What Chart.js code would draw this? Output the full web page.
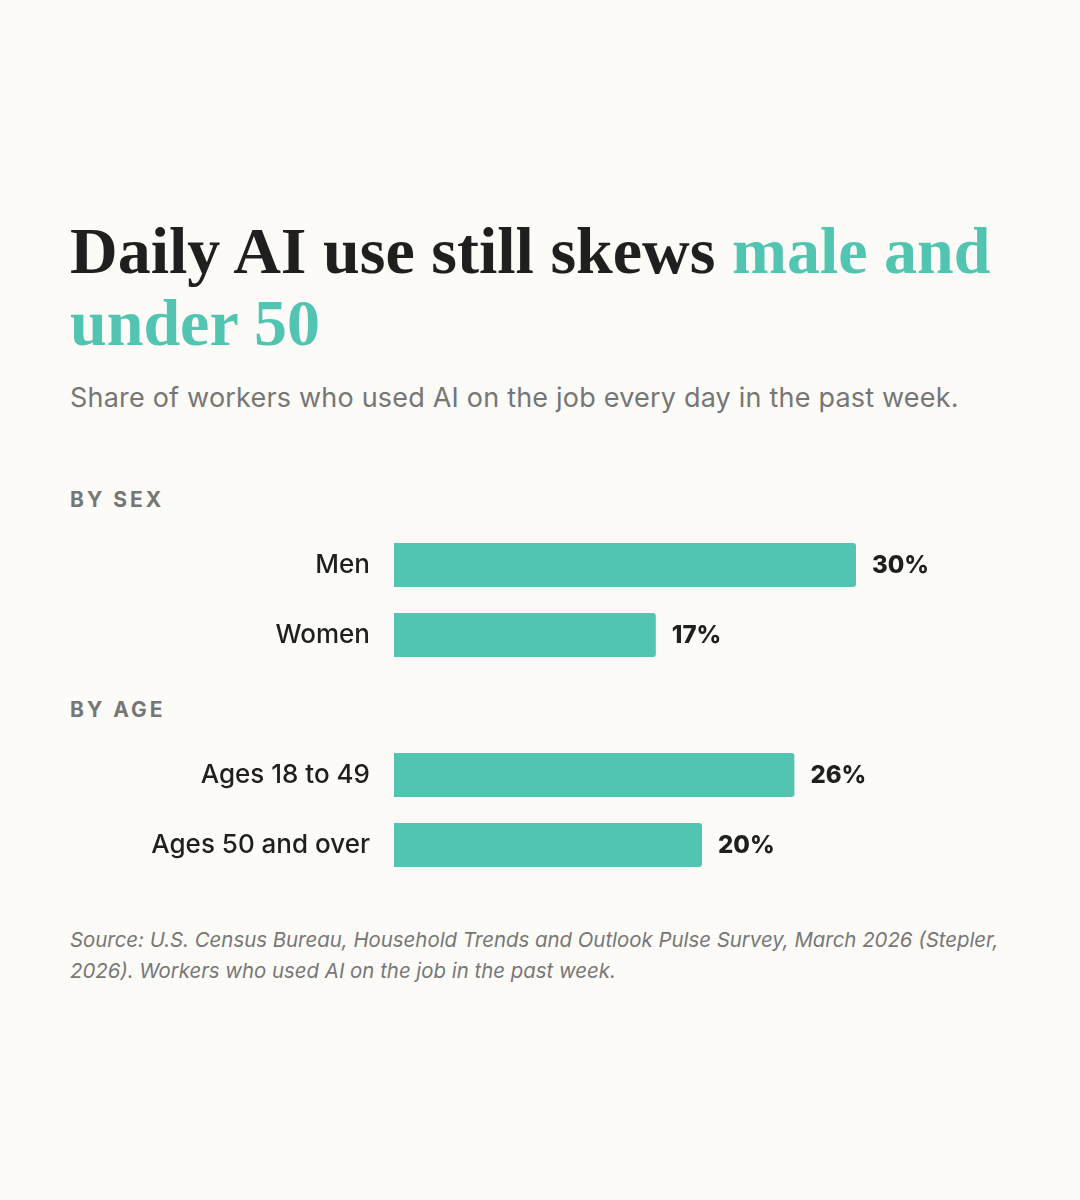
<!DOCTYPE html>
<html>
<head>
<meta charset="utf-8">
<script src="https://cdn.jsdelivr.net/npm/chart.js@4.4.1/dist/chart.umd.min.js"></script>
<style>
	html, body { margin: 0; padding: 0; }
	body { width: 1080px; height: 1200px; background: #fcfbf8; position: relative; font-family: Inter, "Noto Sans", sans-serif; }
	.titulo { position: absolute; left: 70px; top: 215px; width: 960px; font-family: "Liberation Serif", "DejaVu Serif", serif; font-weight: bold; font-size: 66px; line-height: 72px; color: #1f1f1f; }
	.titulo span { color: #52c5b2; }
	.subtitulo { position: absolute; left: 70px; top: 381px; font-size: 27px; color: #767676; letter-spacing: 0.2px; }
	.grupo { position: absolute; left: 70px; font-size: 21px; font-weight: bold; color: #767676; letter-spacing: 3px; }
	.fonte { position: absolute; left: 70px; top: 924px; width: 945px; font-size: 20.4px; line-height: 31px; font-style: italic; color: #777; }
	canvas { position: absolute; left: 70px; }
</style>
</head>
<body>
	<div class="titulo">Daily AI use still skews <span>male and under 50</span></div>
	<div class="subtitulo">Share of workers who used AI on the job every day in the past week.</div>
	<div class="grupo" style="top: 487px;">BY SEX</div>
	<canvas id="sexo" width="940" height="140" style="top: 530px;"></canvas>
	<div class="grupo" style="top: 697px;">BY AGE</div>
	<canvas id="idade" width="940" height="140" style="top: 740px;"></canvas>
	<div class="fonte">Source: U.S. Census Bureau, Household Trends and Outlook Pulse Survey, March 2026 (Stepler, 2026). Workers who used AI on the job in the past week.</div>
<script>
(() => {

	const sexoLabels = ["Men", "Women"];
	const sexoValores = [30, 17];
	const idadeLabels = ["Ages 18 to 49", "Ages 50 and over"];
	const idadeValores = [26, 20];

	const corBarra = "#52c5b2";
	const corTexto = "#1f1f1f";

	const rotuloValor = {
		id: "rotuloValor",
		afterDatasetsDraw(chart) {
			const ctx = chart.ctx;
			const meta = chart.getDatasetMeta(0);
			ctx.save();
			ctx.font = "800 24px Inter";
			ctx.fillStyle = corTexto;
			ctx.textAlign = "left";
			ctx.textBaseline = "middle";
			meta.data.forEach((bar, i) => {
				ctx.fillText(chart.data.datasets[0].data[i] + "%", bar.x + 16, bar.y + 1);
			});
			ctx.restore();
		}
	};

	const criaChart = (id, labels, valores) => {
		new Chart(id, {
			type: "bar",
			data: {
				labels: labels,
				datasets: [{
					data: valores,
					backgroundColor: corBarra,
					borderRadius: 3,
					borderSkipped: "start",
					categoryPercentage: 1,
					barPercentage: 44 / 70
				}]
			},
			options: {
				indexAxis: "y",
				responsive: false,
				animation: false,
				layout: { padding: 0 },
				plugins: {
					legend: { display: false },
					tooltip: { enabled: false }
				},
				scales: {
					x: {
						display: false,
						min: 0,
						max: 40
					},
					y: {
						// largura fixa e sem padding vertical das labels
						afterFit: (scale) => {
							scale.width = 324;
							scale.paddingTop = 0;
							scale.paddingBottom = 0;
						},
						grid: { display: false, drawTicks: false },
						border: { display: false },
						ticks: {
							color: corTexto,
							padding: 24,
							font: { family: "Inter", size: 26, weight: 500 }
						}
					}
				}
			},
			plugins: [rotuloValor]
		});
	}

	criaChart("sexo", sexoLabels, sexoValores);
	criaChart("idade", idadeLabels, idadeValores);
})();
</script>
</body>
</html>
